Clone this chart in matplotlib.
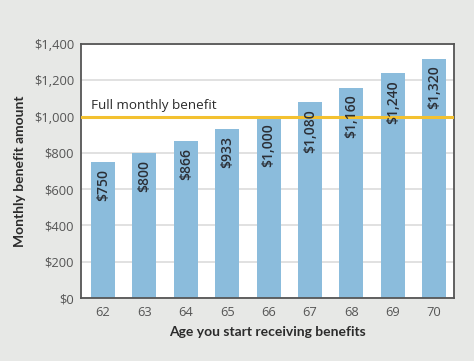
import matplotlib
matplotlib.use("Agg")
import matplotlib.pyplot as plt
from matplotlib.ticker import FuncFormatter

ages = [62, 63, 64, 65, 66, 67, 68, 69, 70]
benefits = [750, 800, 866, 933, 1000, 1080, 1160, 1240, 1320]
full_benefit = 1000

plt.rcParams['font.family'] = ['Open Sans', 'DejaVu Sans']

bg = '#e7e8e6'
fig = plt.figure(figsize=(4.74, 3.61), dpi=100, facecolor=bg)
ax = fig.add_axes([81/474, 1 - 298/361, (454 - 81)/474, (298 - 44)/361])
ax.set_facecolor('white')

ax.bar(ages, benefits, width=0.58, color='#8bbcdc', zorder=2)
ax.axhline(full_benefit, color='#f3c130', lw=2.2, zorder=3)
ax.text(61.7, full_benefit + 25, 'Full monthly benefit', fontsize=9.7,
        color='#2b2b2b', va='bottom', ha='left', zorder=4)

for a, v in zip(ages, benefits):
    ax.annotate('${:,}'.format(v), (a, v), xytext=(0, -5), textcoords='offset points',
                rotation=90, ha='center', va='top', fontsize=10, fontweight='semibold',
                color='#2b2f36', zorder=4)

ax.set_xlim(61.47, 70.48)
ax.set_ylim(0, 1400)
ax.set_xticks(ages)
ax.set_yticks(range(0, 1401, 200))
ax.yaxis.set_major_formatter(FuncFormatter(lambda v, p: '${:,.0f}'.format(v)))
ax.grid(axis='y', color='#dcdcdc', lw=1.2, zorder=1)
ax.tick_params(length=0, labelsize=9.3, labelcolor='#555555')
ax.tick_params(axis='y', pad=5)
ax.tick_params(axis='x', pad=6)

for s in ax.spines.values():
    s.set_color('#555555')
    s.set_linewidth(1.3)

ax.set_xlabel('Age you start receiving benefits', fontsize=10, fontweight='bold',
              color='#2b2b2b', family=['Lato', 'DejaVu Sans'], va='center')
ax.set_ylabel('Monthly benefit amount', fontsize=10, fontweight='bold',
              color='#2b2b2b', family=['Lato', 'DejaVu Sans'], va='center')
ax.xaxis.set_label_coords(0.5, (298 - 332) / 254)
ax.yaxis.set_label_coords((20 - 81) / 373, 0.5)

fig.savefig('out.png', dpi=100, facecolor=bg)
